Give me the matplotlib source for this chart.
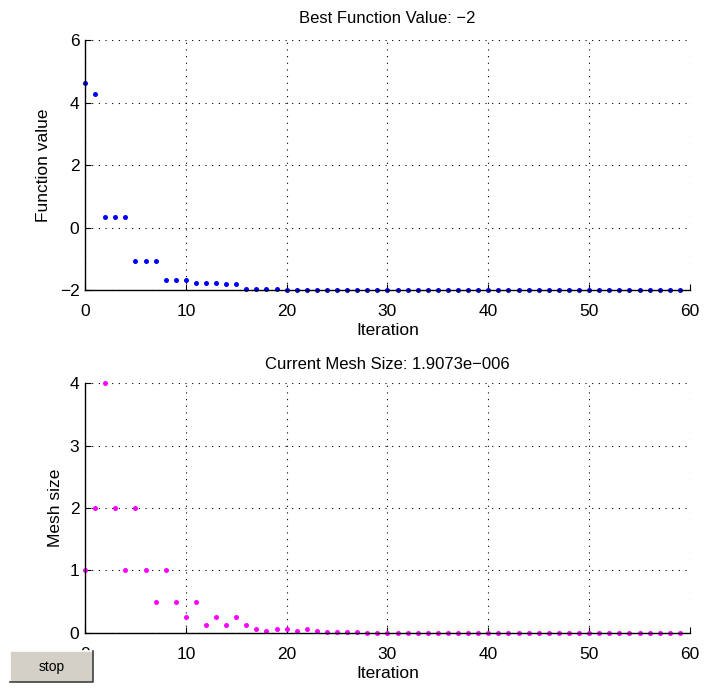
import matplotlib
matplotlib.use("Agg")
import matplotlib.pyplot as plt
from matplotlib.patches import Rectangle
from matplotlib.lines import Line2D

plt.rcParams['font.family'] = ['Liberation Sans', 'DejaVu Sans']

# data
iters = list(range(60))
fvals = [4.63, 4.28, 0.33, 0.33, 0.33, -1.08, -1.08, -1.08, -1.67, -1.67,
         -1.67, -1.78, -1.78, -1.78, -1.80, -1.80, -1.96, -1.97, -1.97, -1.98,
         -1.99, -1.99, -1.99, -2.0, -2.0, -2.0, -2.0, -2.0, -2.0, -2.0,
         -2.0, -2.0, -2.0, -2.0, -2.0, -2.0, -2.0, -2.0, -2.0, -2.0,
         -2.0, -2.0, -2.0, -2.0, -2.0, -2.0, -2.0, -2.0, -2.0, -2.0,
         -2.0, -2.0, -2.0, -2.0, -2.0, -2.0, -2.0, -2.0, -2.0, -2.0]
mesh = [1, 2, 4, 2, 1, 2, 1, 0.5, 1, 0.5,
        0.25, 0.5, 0.125, 0.25, 0.125, 0.25, 0.125, 0.0625, 0.03125, 0.0625,
        0.0625, 0.03125, 0.0625, 0.03125, 0.015625, 0.0078125, 0.015625, 0.0078125, 0.00390625, 0.00390625,
        0.001953125, 0.00390625, 0.001953125, 0.0009765625, 0.0009765625, 0.00048828125, 0.0009765625, 0.00048828125, 0.000244140625, 0.000244140625,
        0.0001220703125, 0.000244140625, 0.0001220703125, 6.103515625e-05, 6.103515625e-05, 3.0517578125e-05, 6.103515625e-05, 3.0517578125e-05, 1.52587890625e-05, 1.52587890625e-05,
        7.62939453125e-06, 1.52587890625e-05, 7.62939453125e-06, 3.814697265625e-06, 7.62939453125e-06, 3.814697265625e-06, 3.814697265625e-06, 1.9073486328125e-06, 3.814697265625e-06, 1.9073486328125e-06]
best_f = "\u22122"
mesh_final = "1.9073e\u2212006"

fig = plt.figure(figsize=(7.05, 6.89), dpi=100)
ax1 = fig.add_axes([0.1206, 0.579, 0.858, 0.3628])
ax2 = fig.add_axes([0.1206, 0.0813, 0.858, 0.3628])

def style(ax):
    ax.set_xlim(0, 60)
    ax.set_xticks([0, 10, 20, 30, 40, 50, 60])
    ax.tick_params(direction='in', top=False, right=False, labelsize=12.5, length=4, width=0.8)
    ax.tick_params(axis='x', pad=10)
    ax.tick_params(axis='y', pad=4)
    ax.grid(True, color='black', linestyle=(0, (1, 5)), linewidth=0.8)
    ax.spines['top'].set_visible(False)
    ax.spines['right'].set_visible(False)
    for s in ['left', 'bottom']:
        ax.spines[s].set_linewidth(1.0)
    ax.set_xlabel("Iteration", fontsize=12.5, labelpad=3)

ax1.plot(iters, fvals, 'o', color=(0, 0, 1), markersize=3.6, markeredgewidth=0, clip_on=False)
style(ax1)
ax1.set_ylim(-2, 6)
ax1.set_yticks([-2, 0, 2, 4, 6])
ax1.set_yticklabels(["\u22122", "0", "2", "4", "6"])
ax1.set_ylabel("Function value", fontsize=12.5, labelpad=6)
ax1.set_title("Best Function Value: " + best_f, fontsize=12, pad=12)

ax2.plot(iters, mesh, 'o', color=(1, 0, 1), markersize=3.6, markeredgewidth=0, clip_on=False)
style(ax2)
ax2.set_ylim(0, 4)
ax2.set_yticks([0, 1, 2, 3, 4])
ax2.set_ylabel("Mesh size", fontsize=12.5, labelpad=5)
ax2.set_title("Current Mesh Size: " + mesh_final, fontsize=12, pad=10)

# stop button, drawn over the axes like the gui control
x0, y0, w, h = 10 / 705, 1 - 682 / 689, 83 / 705, 31 / 689
fig.patches.append(Rectangle((x0, y0), w, h, transform=fig.transFigure,
                             facecolor='#d4d0c8', edgecolor='none', zorder=5))
fig.lines.append(Line2D([x0, x0, x0 + w], [y0, y0 + h, y0 + h], transform=fig.transFigure,
                        color='white', linewidth=1.2, zorder=6))
fig.lines.append(Line2D([x0, x0 + w, x0 + w], [y0, y0, y0 + h], transform=fig.transFigure,
                        color='#404040', linewidth=1.2, zorder=6))
fig.text(x0 + w / 2, y0 + h / 2, "stop", ha='center', va='center', fontsize=10, zorder=7)

fig.savefig("out.png", dpi=100)
